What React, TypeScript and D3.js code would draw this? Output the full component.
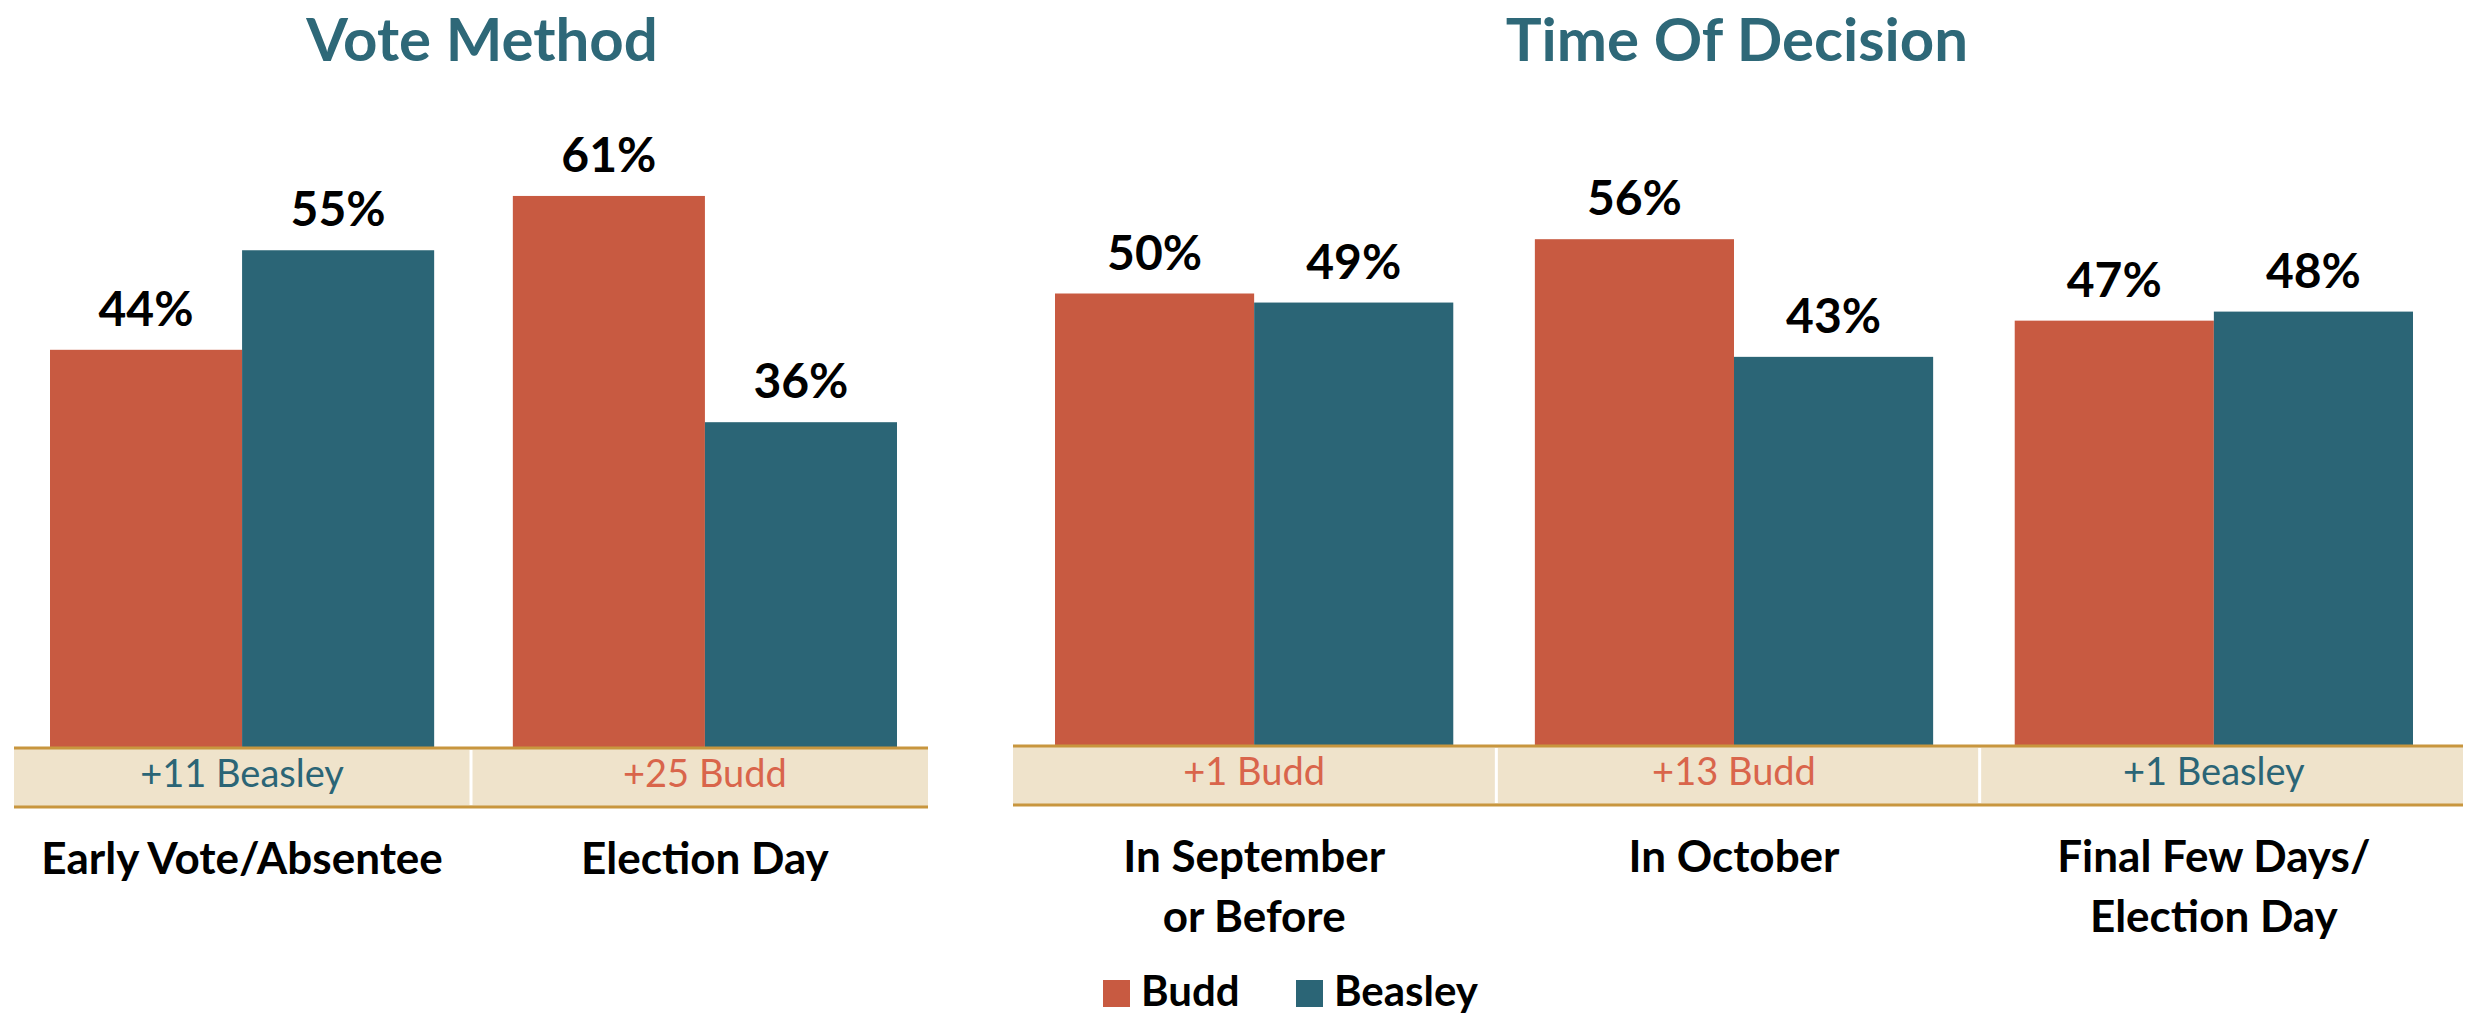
import React from 'react';
import * as d3 from 'd3';

// chart data
const series = ['Budd', 'Beasley'];
const colors = ['#C85A41', '#2B6576'];
const marginColors = ['#D9654B', '#2B6576'];

const voteCategories = ['Early Vote/Absentee', 'Election Day'];
const voteBudd = [44, 61];
const voteBeasley = [55, 36];
const voteMargins = ['+11 Beasley', '+25 Budd'];

const timeCategories = [['In September', 'or Before'], ['In October'], ['Final Few Days/', 'Election Day']];
const timeBudd = [50, 56, 47];
const timeBeasley = [49, 43, 48];
const timeMargins = ['+1 Budd', '+13 Budd', '+1 Beasley'];

const FONT = 'Lato, "Open Sans", sans-serif';

function Panel(props: any) {
  const { title, categories, budd, beasley, margins, bandX, barX, baseline, titleX } = props;
  const keys = categories.map((c: any, i: number) => 'c' + i);

  const y = d3.scaleLinear().domain([0, 100]).range([baseline, baseline - 905]);

  // bars
  const groups = d3.scaleBand().domain(keys).range(barX).paddingInner(0.17).paddingOuter(0);
  const inner = d3.scaleBand().domain(series).range([0, groups.bandwidth()]);
  // margin strip below the bars
  const cells = d3.scaleBand().domain(keys).range(bandX);

  const rows = keys.map((k: string, i: number) => ({ key: k, values: [budd[i], beasley[i]] }));

  const bandTop = baseline;
  const bandH = 59;

  return (
    <g>
      <text x={titleX} y={61} textAnchor="middle" fontFamily={FONT} fontWeight="bold"
        fontSize={60} fill="#2E6878">{title}</text>

      {rows.map((r: any) => (
        <g key={r.key} transform={`translate(${groups(r.key)},0)`}>
          {r.values.map((v: number, j: number) => (
            <g key={series[j]}>
              <rect x={inner(series[j])} y={y(v)} width={inner.bandwidth()} height={baseline - y(v)}
                fill={colors[j]} />
              <text x={(inner(series[j]) as number) + inner.bandwidth() / 2} y={y(v) - 24}
                textAnchor="middle" fontFamily={FONT} fontWeight="bold" fontSize={48} fill="#000">
                {v}%
              </text>
            </g>
          ))}
        </g>
      ))}

      <rect x={bandX[0]} y={bandTop} width={bandX[1] - bandX[0]} height={bandH} fill="#EFE3CB" />
      {keys.slice(1).map((k: string) => (
        <line key={k} x1={cells(k)} x2={cells(k)} y1={bandTop + 2} y2={bandTop + bandH - 2}
          stroke="#ffffff" strokeWidth={3} />
      ))}
      <line x1={bandX[0]} x2={bandX[1]} y1={bandTop} y2={bandTop} stroke="#C8963E" strokeWidth={3} />
      <line x1={bandX[0]} x2={bandX[1]} y1={bandTop + bandH} y2={bandTop + bandH} stroke="#C8963E" strokeWidth={3} />

      {keys.map((k: string, i: number) => {
        const cx = (groups(k) as number) + groups.bandwidth() / 2;
        const m = margins[i];
        const col = m.indexOf('Budd') >= 0 ? marginColors[0] : marginColors[1];
        const lines = Array.isArray(categories[i]) ? categories[i] : [categories[i]];
        return (
          <g key={k}>
            <text x={cx} y={bandTop + 39} textAnchor="middle" fontFamily={FONT} fontSize={38} fill={col}>{m}</text>
            {lines.map((l: string, li: number) => (
              <text key={li} x={cx} y={bandTop + 126 + li * 60} textAnchor="middle" fontFamily={FONT}
                fontWeight="bold" fontSize={44} fill="#000">{l}</text>
            ))}
          </g>
        );
      })}
    </g>
  );
}

export default function App() {
  const W = 2468;
  const H = 1017;
  const legendX = d3.scaleOrdinal<string, number>().domain(series).range([1103, 1296]);

  return (
    <svg width={W} height={H} style={{ position: 'absolute', left: 0, top: 0, background: '#fff' }}>
      <Panel title="Vote Method" categories={voteCategories} budd={voteBudd} beasley={voteBeasley}
        margins={voteMargins} bandX={[14, 928]} barX={[50, 897]} baseline={748} titleX={482} />
      <Panel title="Time Of Decision" categories={timeCategories} budd={timeBudd} beasley={timeBeasley}
        margins={timeMargins} bandX={[1013, 2463]} barX={[1055, 2413]} baseline={746} titleX={1737} />

      {series.map((s, i) => (
        <g key={s} transform={`translate(${legendX(s)},0)`}>
          <rect x={0} y={980} width={27} height={27} fill={colors[i]} />
          <text x={38} y={1006} fontFamily={FONT} fontWeight="bold" fontSize={42} fill="#000">{s}</text>
        </g>
      ))}
    </svg>
  );
}
